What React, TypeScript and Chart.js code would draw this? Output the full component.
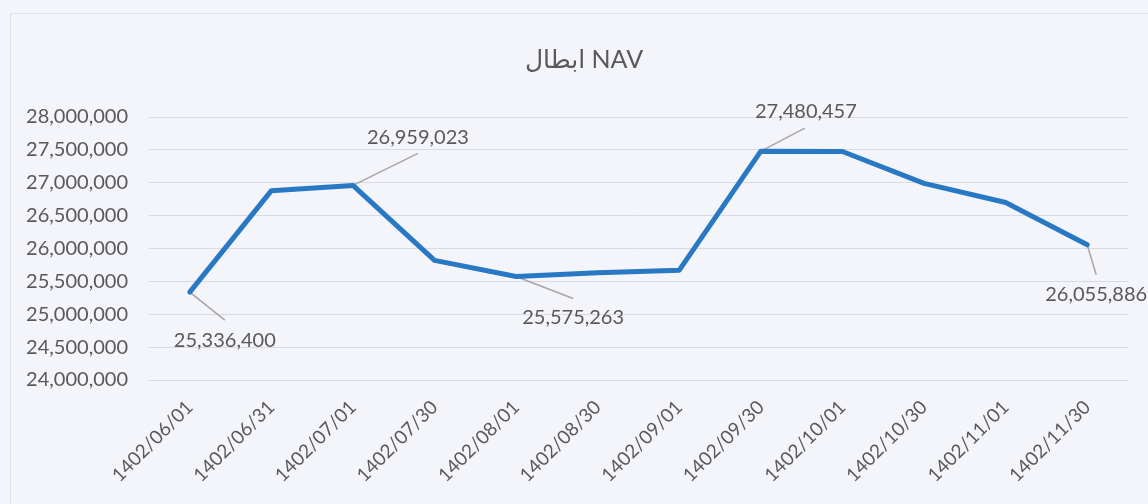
import React, { useEffect, useRef } from "react";
import { Chart, registerables } from "chart.js";

Chart.register(...registerables);

const titleText = "ابطال NAV";

const dates = [
  "1402/06/01",
  "1402/06/31",
  "1402/07/01",
  "1402/07/30",
  "1402/08/01",
  "1402/08/30",
  "1402/09/01",
  "1402/09/30",
  "1402/10/01",
  "1402/10/30",
  "1402/11/01",
  "1402/11/30",
];

const navValues = [
  25336400, 26880000, 26959023, 25820000, 25575263, 25630000, 25670000,
  27480457, 27475000, 26990000, 26700000, 26055886,
];

const labeledIndices = [0, 2, 4, 7, 11];

const yMin = 24000000;
const yMax = 28000000;
const yStep = 500000;

// label placement offsets relative to each labeled point (style only)
const labelOffsets = [
  { tx: 35, ty: 48, lx: 35, ly: 28 },
  { tx: 65, ty: -48, lx: 65, ly: -32 },
  { tx: 57, ty: 41, lx: 57, ly: 22 },
  { tx: 45, ty: -40, lx: 44, ly: -23 },
  { tx: 9, ty: 50, lx: 9, ly: 30 },
];

const FONT = 'Lato, "DejaVu Sans", sans-serif';
const TEXT_COLOR = "#595959";
const BG = "#f4f5fb";
const LINE_COLOR = "#2878c4";

const fmt = (v: number) => Number(v).toLocaleString("en-US");

export default function App() {
  const canvasRef = useRef<HTMLCanvasElement | null>(null);

  useEffect(() => {
    document.body.style.margin = "0";
    document.body.style.background = BG;
    const canvas = canvasRef.current;
    if (!canvas) return;

    const decorPlugin = {
      id: "decor",
      beforeDraw(chart: any) {
        const ctx = chart.ctx;
        ctx.save();
        ctx.fillStyle = BG;
        ctx.fillRect(0, 0, chart.width, chart.height);
        ctx.strokeStyle = "#dfe0e8";
        ctx.lineWidth = 1;
        ctx.beginPath();
        ctx.moveTo(10.5, chart.height);
        ctx.lineTo(10.5, 13.5);
        ctx.lineTo(chart.width, 13.5);
        ctx.stroke();
        ctx.restore();
      },
      beforeDatasetsDraw(chart: any) {
        const ctx = chart.ctx;
        const meta = chart.getDatasetMeta(0);
        ctx.save();
        ctx.strokeStyle = "#a6a6a6";
        ctx.lineWidth = 1.5;
        labeledIndices.forEach((idx, k) => {
          const pt = meta.data[idx];
          const o = labelOffsets[k];
          ctx.beginPath();
          ctx.moveTo(pt.x, pt.y);
          ctx.lineTo(pt.x + o.lx, pt.y + o.ly);
          ctx.stroke();
        });
        ctx.restore();
      },
      afterDatasetsDraw(chart: any) {
        const ctx = chart.ctx;
        const meta = chart.getDatasetMeta(0);
        ctx.save();
        ctx.fillStyle = TEXT_COLOR;
        ctx.font = `20px ${FONT}`;
        ctx.textAlign = "center";
        ctx.textBaseline = "middle";
        labeledIndices.forEach((idx, k) => {
          const pt = meta.data[idx];
          const o = labelOffsets[k];
          ctx.fillText(fmt(navValues[idx]), pt.x + o.tx, pt.y + o.ty);
        });
        // title
        ctx.font = `25px ${FONT}`;
        ctx.fillText(titleText, 584, 60);
        ctx.restore();
      },
    };

    const chart = new Chart(canvas, {
      type: "line",
      data: {
        labels: dates,
        datasets: [
          {
            label: "NAV",
            data: navValues,
            borderColor: LINE_COLOR,
            borderWidth: 5,
            borderJoinStyle: "round",
            borderCapStyle: "round",
            pointRadius: 0,
            pointHoverRadius: 0,
            tension: 0,
            fill: false,
          },
        ],
      },
      options: {
        responsive: false,
        animation: false,
        layout: { padding: { left: 0, right: 20, top: 117, bottom: 0 } },
        plugins: {
          legend: { display: false },
          title: { display: false },
          tooltip: { enabled: false },
        },
        scales: {
          x: {
            type: "category",
            offset: true,
            grid: { display: false, drawTicks: false },
            border: { display: false },
            ticks: {
              color: TEXT_COLOR,
              font: { family: FONT, size: 19 },
              maxRotation: 45,
              minRotation: 45,
              autoSkip: false,
              padding: 16,
            },
            afterFit(scale: any) {
              scale.height = 124;
            },
          },
          y: {
            min: yMin,
            max: yMax,
            grid: { color: "#d9dae2", lineWidth: 1, drawTicks: false },
            border: { display: false },
            ticks: {
              stepSize: yStep,
              color: TEXT_COLOR,
              font: { family: FONT, size: 20 },
              padding: 21,
              autoSkip: false,
              callback: (v: any) => fmt(Number(v)),
            },
            afterFit(scale: any) {
              scale.width = 149;
            },
          },
        },
      },
      plugins: [decorPlugin],
    } as any);

    return () => chart.destroy();
  }, []);

  return (
    <div style={{ position: "absolute", left: 0, top: 0, width: 1148, height: 504, background: BG }}>
      <canvas ref={canvasRef} width={1148} height={504} />
    </div>
  );
}
